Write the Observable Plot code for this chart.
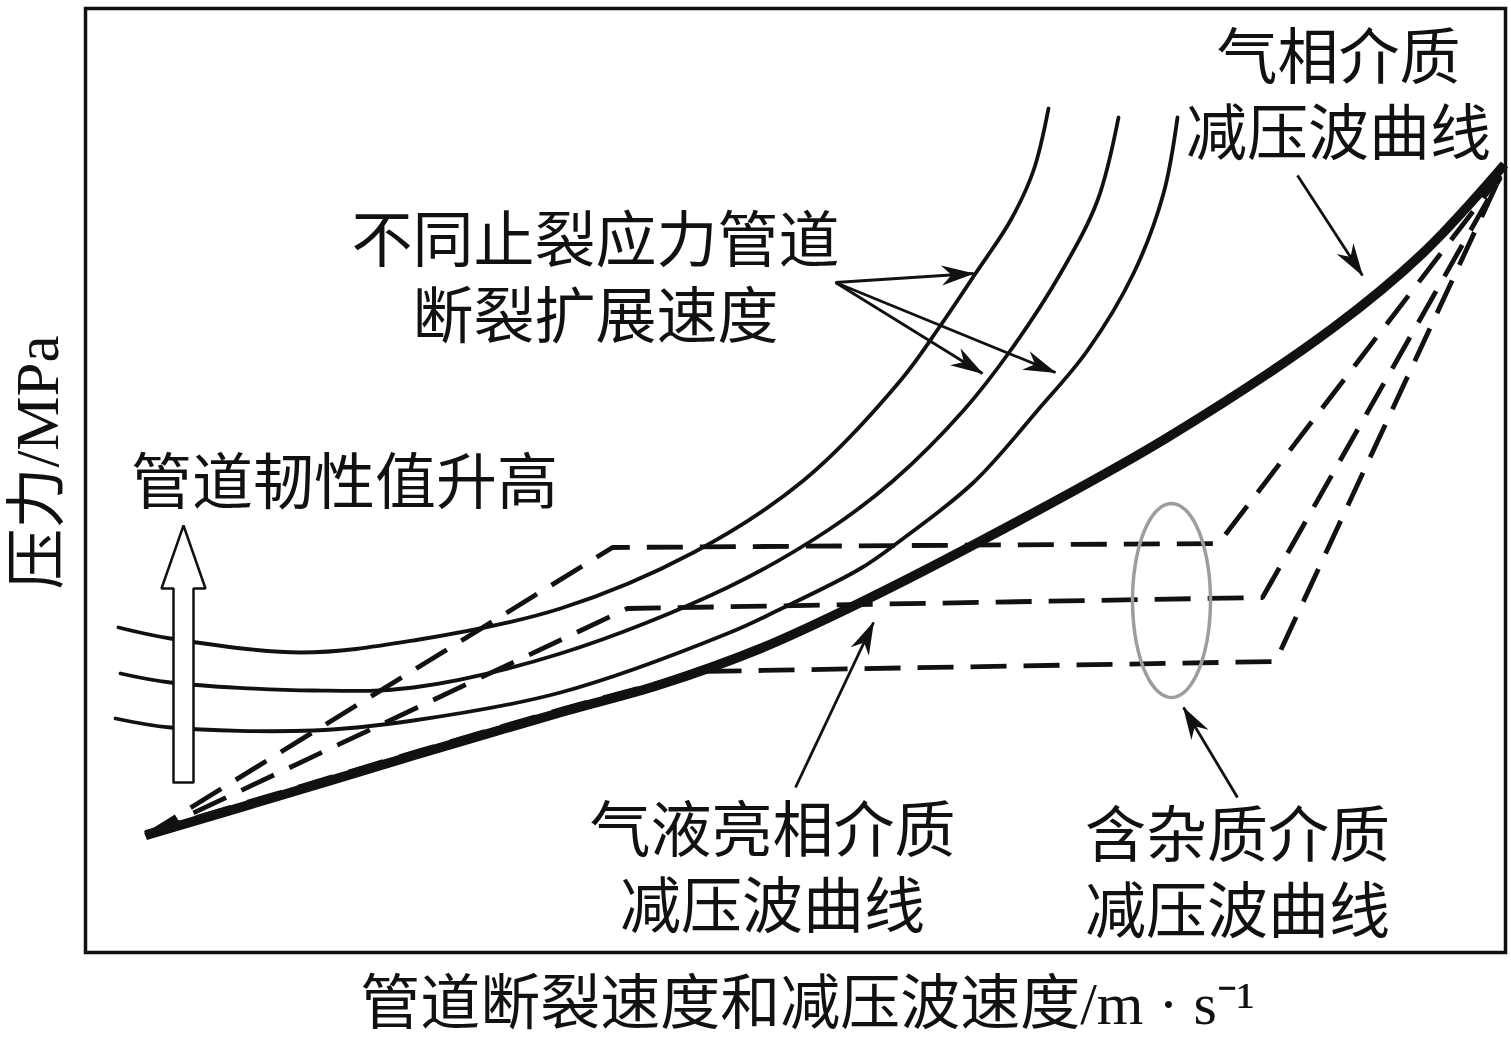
<!DOCTYPE html>
<html>
<head>
<meta charset="utf-8">
<script src="https://cdn.jsdelivr.net/npm/d3@7"></script>
<script src="https://cdn.jsdelivr.net/npm/@observablehq/plot@0.6"></script>
<style>
  html, body { margin: 0; padding: 0; background: #fff; }
  #chart svg { display: block; }
</style>
</head>
<body>
<div id="chart"></div>
<script>
const FONT = '"Liberation Serif", "Noto Sans CJK SC", serif';
const INK = "#111";

// ---- Data (schematic units) ----
// 气相介质减压波曲线 (thick)
const gasX = [60, 195, 328, 475, 575, 675, 775, 915, 1082, 1248, 1338, 1419];
const gasY = [117, 157, 197, 240, 268, 304, 350, 422, 515, 625, 700, 788];

// 不同止裂应力管道断裂扩展速度 (three thin curves)
const fracAX = [33, 85, 215, 328, 475, 608, 718, 815, 855, 890, 925, 948, 963];
const fracAY = [325, 314, 300, 312, 344, 400, 472, 572, 627, 679, 732, 782, 844];
const fracBX = [35, 85, 228, 328, 475, 642, 742, 808, 878, 925, 975, 1012, 1033];
const fracBY = [279, 270, 262, 265, 299, 365, 422, 472, 542, 602, 679, 752, 835];
const fracCX = [30, 85, 228, 328, 475, 642, 692, 775, 815, 888, 952, 1002, 1048, 1078, 1092];
const fracCY = [234, 225, 222, 232, 260, 319, 342, 384, 412, 470, 542, 602, 679, 759, 835];

// 含杂质 / 气液两相 decompression curves (dashed)
const dash1X = [60, 527, 1133, 1415];
const dash1Y = [117, 405, 409, 777];
const dash2X = [60, 542, 1177, 1415];
const dash2Y = [117, 344, 355, 775];
const dash3X = [60, 195, 328, 475, 615, 1190, 1413];
const dash3Y = [120, 160, 200, 243, 281, 291, 772];

// annotation: ellipse around dashed plateaus
const ellipseCenter = [1086, 352];
const ellipseRadii = [39, 97];

// annotation arrows (from label toward curve)
const arrowX1 = [750, 750, 750, 1212, 710, 1152];
const arrowY1 = [670, 670, 670, 777, 165, 155];
const arrowX2 = [888, 897, 970, 1277, 788, 1098];
const arrowY2 = [679, 579, 580, 677, 330, 245];

// hollow arrow "管道韧性值升高"
const hollowArrow = { x: 98, y0: 170, y1: 427, headBase: 364, shaftHalf: 10, headHalf: 22 };

// annotation labels
const labelText = ["不同止裂应力管道\n断裂扩展速度", "气相介质\n减压波曲线", "管道韧性值升高", "气液亮相介质\n减压波曲线", "含杂质介质\n减压波曲线"];
const labelX = [510, 1253, 259, 687, 1152];
const labelY = [677, 859.5, 473, 86.5, 81.5];

const xLabel = "管道断裂速度和减压波速度/m · s⁻¹";
const yLabel = "压力/MPa";

// ---- Build tables ----
const gas = gasX.map((x, i) => ({ x, y: gasY[i] }));
const frac = [
  ...fracAX.map((x, i) => ({ s: "A", x, y: fracAY[i] })),
  ...fracBX.map((x, i) => ({ s: "B", x, y: fracBY[i] })),
  ...fracCX.map((x, i) => ({ s: "C", x, y: fracCY[i] }))
];
const dashed = [
  ...dash1X.map((x, i) => ({ s: 1, x, y: dash1Y[i] })),
  ...dash2X.map((x, i) => ({ s: 2, x, y: dash2Y[i] })),
  ...dash3X.map((x, i) => ({ s: 3, x, y: dash3Y[i] }))
];
const ellipse = d3.range(0, 73).map(k => {
  const t = (k / 72) * 2 * Math.PI;
  return { x: ellipseCenter[0] + ellipseRadii[0] * Math.cos(t), y: ellipseCenter[1] + ellipseRadii[1] * Math.sin(t) };
});
const ha = hollowArrow;
const hollow = [
  [ha.x - ha.shaftHalf, ha.y0], [ha.x - ha.shaftHalf, ha.headBase], [ha.x - ha.headHalf, ha.headBase],
  [ha.x, ha.y1], [ha.x + ha.headHalf, ha.headBase], [ha.x + ha.shaftHalf, ha.headBase],
  [ha.x + ha.shaftHalf, ha.y0], [ha.x - ha.shaftHalf, ha.y0]
].map(([x, y]) => ({ x, y }));
const arrows = arrowX1.map((x1, i) => ({ x1, y1: arrowY1[i], x2: arrowX2[i], y2: arrowY2[i] }));
const labels = labelText.map((text, i) => ({ text, x: labelX[i], y: labelY[i] }));

const chart = Plot.plot({
  width: 1511,
  height: 1039,
  marginLeft: 85,
  marginRight: 6,
  marginTop: 8,
  marginBottom: 87,
  x: { domain: [0, 1420], axis: null },
  y: { domain: [0, 944], axis: null },
  style: { fontFamily: FONT, background: "white", color: INK },
  marks: [
    Plot.line(frac, { x: "x", y: "y", z: "s", stroke: INK, strokeWidth: 3.8, curve: "catmull-rom" }),
    Plot.line(dashed, { x: "x", y: "y", z: "s", stroke: INK, strokeWidth: 4.8, strokeDasharray: "36,17", curve: "linear", strokeLinecap: "butt", strokeLinejoin: "miter" }),
    Plot.line(gas, { x: "x", y: "y", stroke: INK, strokeWidth: 9.5, curve: "catmull-rom", strokeLinecap: "butt" }),
    Plot.line(ellipse, { x: "x", y: "y", stroke: "#9d9d9d", strokeWidth: 3.5, curve: "linear" }),
    Plot.line(hollow, { x: "x", y: "y", fill: "white", stroke: INK, strokeWidth: 2.5, curve: "linear", strokeLinejoin: "miter" }),
    Plot.link(arrows, { x1: "x1", y1: "y1", x2: "x2", y2: "y2", stroke: INK, strokeWidth: 2.8, strokeLinecap: "butt", className: "ann-arrow" }),
    Plot.text(labels, { x: "x", y: "y", text: "text", fontSize: 61, lineHeight: 1.24, lineAnchor: "middle", textAnchor: "middle", fill: INK, fontFamily: FONT }),
    Plot.text([xLabel], { frameAnchor: "bottom", text: d => d, dy: 52, dx: 12, fontSize: 60, textAnchor: "middle", lineAnchor: "middle", fill: INK, fontFamily: FONT }),
    Plot.text([yLabel], { frameAnchor: "left", text: d => d, dx: -47, dy: -18, rotate: -90, fontSize: 61, textAnchor: "middle", lineAnchor: "middle", fill: INK, fontFamily: FONT }),
    Plot.frame({ stroke: INK, strokeWidth: 3.5 })
  ]
});

// filled arrowheads for the annotation arrows
const ns = "http://www.w3.org/2000/svg";
const defs = document.createElementNS(ns, "defs");
const marker = document.createElementNS(ns, "marker");
marker.setAttribute("id", "stealth-head");
marker.setAttribute("viewBox", "-34 -12 36 24");
marker.setAttribute("refX", "0");
marker.setAttribute("refY", "0");
marker.setAttribute("markerWidth", "36");
marker.setAttribute("markerHeight", "24");
marker.setAttribute("markerUnits", "userSpaceOnUse");
marker.setAttribute("orient", "auto");
const head = document.createElementNS(ns, "path");
head.setAttribute("d", "M1,0 L-32,-10 L-22,0 L-32,10 Z");
head.setAttribute("fill", INK);
marker.appendChild(head);
defs.appendChild(marker);
chart.insertBefore(defs, chart.firstChild);
chart.querySelectorAll(".ann-arrow path, .ann-arrow line").forEach(p => p.setAttribute("marker-end", "url(#stealth-head)"));

document.getElementById("chart").appendChild(chart);
</script>
</body>
</html>
